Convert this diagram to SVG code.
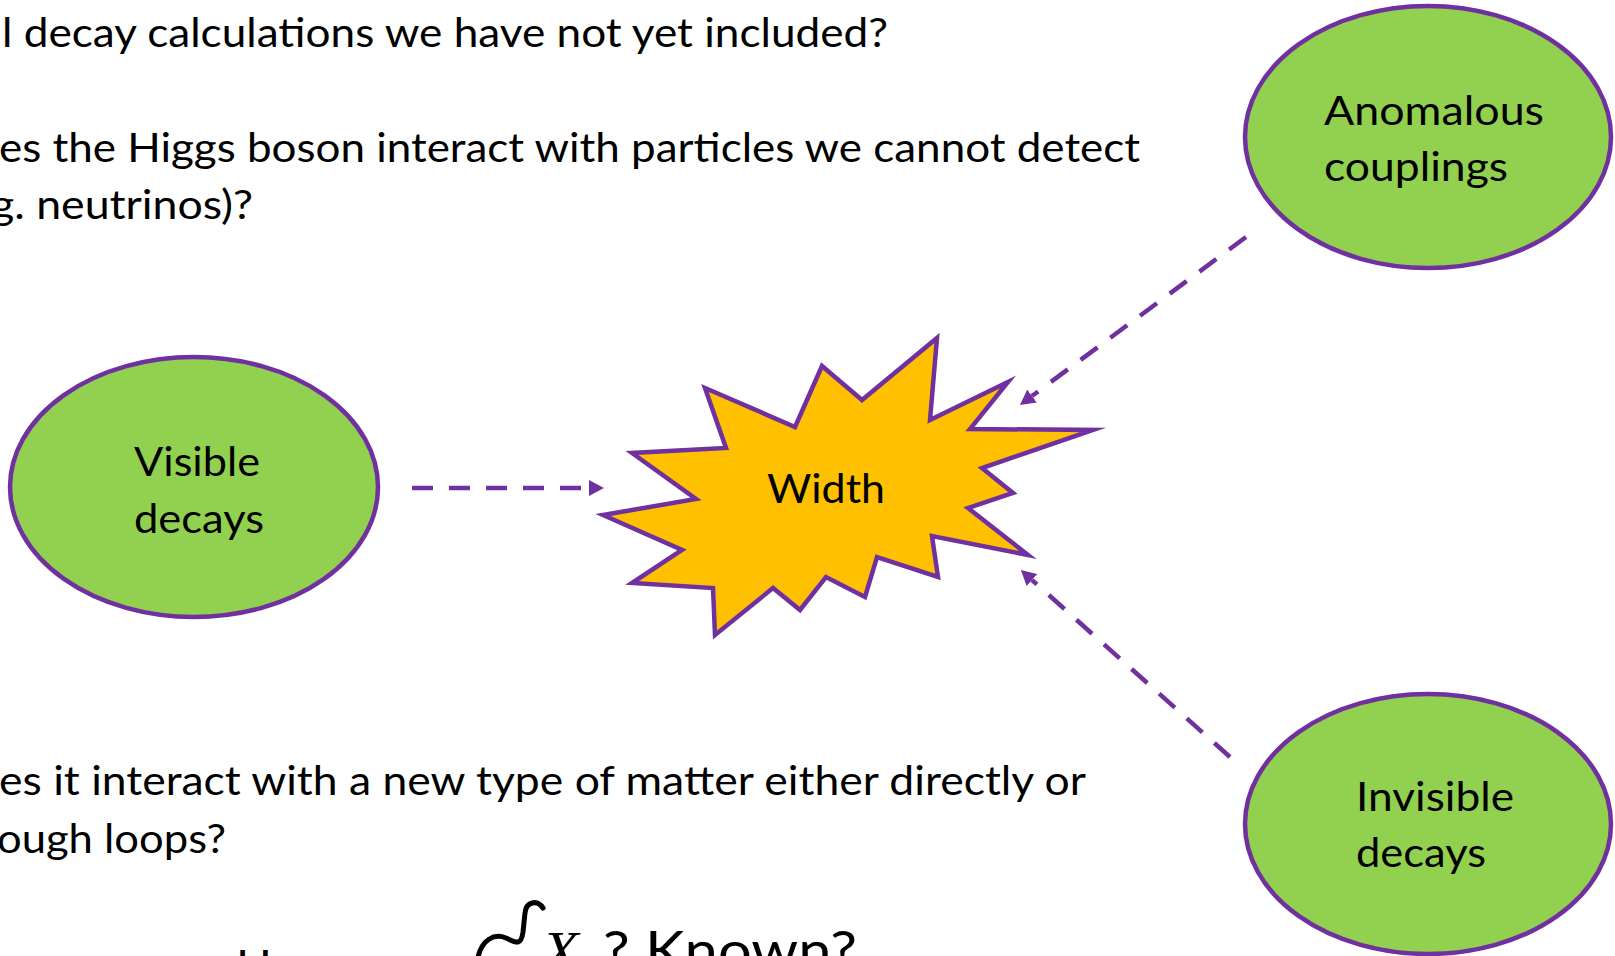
<svg xmlns="http://www.w3.org/2000/svg" width="1615" height="956" viewBox="0 0 1615 956">
  <style>
    .txt { font-family: Lato, "Open Sans", "Liberation Sans", sans-serif; font-size: 41.5px; fill: #000000; }
    .big { font-family: Lato, "Open Sans", "Liberation Sans", sans-serif; font-size: 54px; fill: #000000; }
    .math { font-family: "Liberation Serif", "DejaVu Serif", serif; font-style: italic; font-size: 60px; fill: #000000; }
    .oval { fill: #92D050; stroke: #7030A0; stroke-width: 4.5; }
    .star { fill: #FFC000; stroke: #7030A0; stroke-width: 4.5; stroke-linejoin: miter; stroke-miterlimit: 20; }
    .conn { fill: none; stroke: #7030A0; stroke-width: 4.5; stroke-dasharray: 21 16; }
  </style>
  <defs>
    <marker id="arrow" markerUnits="userSpaceOnUse" markerWidth="16" markerHeight="16" refX="0" refY="8" orient="auto">
      <path d="M0,0 L15,8 L0,16 z" fill="#7030A0"/>
    </marker>
  </defs>
  <rect x="0" y="0" width="1615" height="956" fill="#FFFFFF"/>

  <g id="background-text">
    <text class="txt" x="2" y="47" textLength="886" lengthAdjust="spacingAndGlyphs">l decay calculations we have not yet included?</text>
    <text class="txt" x="-1" y="162" textLength="1141" lengthAdjust="spacingAndGlyphs">es the Higgs boson interact with particles we cannot detect</text>
    <text class="txt" x="-9" y="219" textLength="262" lengthAdjust="spacingAndGlyphs">g. neutrinos)?</text>
    <text class="txt" x="-1" y="795" textLength="1087" lengthAdjust="spacingAndGlyphs">es it interact with a new type of matter either directly or</text>
    <text class="txt" x="-3" y="853" textLength="229" lengthAdjust="spacingAndGlyphs">ough loops?</text>
    <text class="txt" x="236" y="979" textLength="36" lengthAdjust="spacingAndGlyphs">H</text>
    <path d="M478,957 C482,940 494,933 506,938 C515,942 521,947 523,932 L525,913 C526,902 537,899 543,908" fill="none" stroke="#000000" stroke-width="5" stroke-linecap="round"/>
    <text class="math" x="542" y="972">X</text>
    <text class="big" x="603" y="970" textLength="254" lengthAdjust="spacingAndGlyphs">? Known?</text>
  </g>

  <g id="connectors">
    <line class="conn" x1="412" y1="488" x2="589" y2="488" marker-end="url(#arrow)"/>
    <line class="conn" x1="1246" y1="237" x2="1032" y2="396" marker-end="url(#arrow)"/>
    <line class="conn" x1="1230" y1="757" x2="1032" y2="580" marker-end="url(#arrow)"/>
  </g>

  <g id="node-width">
    <polygon class="star" points="705,388 795,427 822,366 862,400 937,338 930,420 1008,382 970,429 1093,430 982,468 1013,493 968,508 1028,555 932,536 938,577 877,557 865,597 826,577 800,610 773,588 715,635 713,588 632,583 682,550 603,515 696,499 632,453 726,448"/>
    <text class="txt" x="767" y="503" textLength="118" lengthAdjust="spacingAndGlyphs">Width</text>
  </g>

  <g id="node-visible">
    <ellipse class="oval" cx="194" cy="487" rx="184" ry="130"/>
    <text class="txt" x="134" y="476" textLength="126" lengthAdjust="spacingAndGlyphs">Visible</text>
    <text class="txt" x="134" y="533" textLength="130" lengthAdjust="spacingAndGlyphs">decays</text>
  </g>

  <g id="node-anomalous">
    <ellipse class="oval" cx="1428" cy="137" rx="183" ry="131"/>
    <text class="txt" x="1324" y="125" textLength="220" lengthAdjust="spacingAndGlyphs">Anomalous</text>
    <text class="txt" x="1324" y="181" textLength="184" lengthAdjust="spacingAndGlyphs">couplings</text>
  </g>

  <g id="node-invisible">
    <ellipse class="oval" cx="1428" cy="824" rx="183" ry="130"/>
    <text class="txt" x="1356" y="811" textLength="158" lengthAdjust="spacingAndGlyphs">Invisible</text>
    <text class="txt" x="1356" y="867" textLength="130" lengthAdjust="spacingAndGlyphs">decays</text>
  </g>
</svg>
